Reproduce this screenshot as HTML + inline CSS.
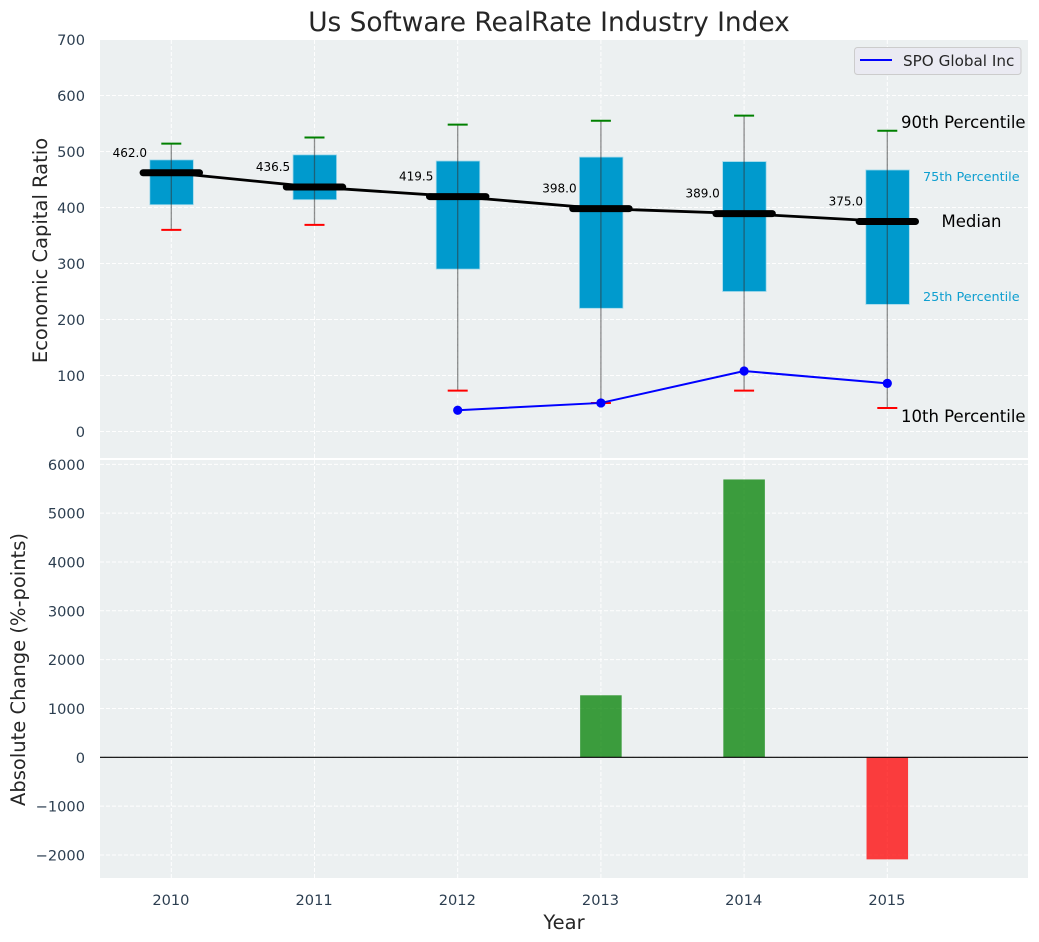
<!DOCTYPE html>
<html>
<head>
<meta charset="utf-8">
<title>Us Software RealRate Industry Index</title>
<style>
html,body{margin:0;padding:0;background:#fff;}
svg{display:block;font-family:"DejaVu Sans","Liberation Sans",sans-serif;}
</style>
</head>
<body>
<svg id="chart" width="1039" height="942" viewBox="0 0 1039 942" xmlns="http://www.w3.org/2000/svg"></svg>
<script>
const years = [2010, 2011, 2012, 2013, 2014, 2015];
const p90 = [514, 525, 548, 555, 564, 537];
const p75 = [485, 494, 483, 490, 482, 467];
const medians = [462.0, 436.5, 419.5, 398.0, 389.0, 375.0];
const p25 = [405, 414, 290, 220, 250, 227];
const p10 = [360, 369, 73, 51, 73, 42];
const spoYears = [2012, 2013, 2014, 2015];
const spoValues = [38, 51, 108, 86];
const changeYears = [2013, 2014, 2015];
const changeValues = [1270, 5690, -2090];
const topTicks = [0, 100, 200, 300, 400, 500, 600, 700];
const bottomTicks = [-2000, -1000, 0, 1000, 2000, 3000, 4000, 5000, 6000];

const svg = document.getElementById('chart');
const NS = 'http://www.w3.org/2000/svg';
const L = 100, R = 1028, T1 = 40, B1 = 458, T2 = 460, B2 = 878;
const x = v => 171.3 + (v - 2010) * 143.2;
const xd = d => d * 143.2;
const y1 = v => 431.5 - v * 0.56;
const y2 = v => 757.3 - v * 0.04883;

function mk(tag, props, text) {
  const e = document.createElementNS(NS, tag);
  for (const k in props) e.setAttribute(k, props[k]);
  if (text !== undefined) e.textContent = text;
  svg.appendChild(e);
  return e;
}
const tickColor = '#2c3e50', labelColor = '#262626';
const tickSize = 14.6, axisSize = 19.5, annSize = 16.5, smallAnnSize = 12.8, valueSize = 12;

let el = mk('rect', {x: L, y: T1, width: R - L, height: B1 - T1, fill: '#ecf0f1'});


el = mk('rect', {x: L, y: T2, width: R - L, height: B2 - T2, fill: '#ecf0f1'});



const gridStyle = {stroke: '#fff', 'stroke-width': 1, 'stroke-dasharray': '4 2', opacity: 0.95};

topTicks.forEach(t => {
  const g = mk('line', {x1: L, x2: R, y1: y1(t), y2: y1(t), ...gridStyle});
  
  
  const l = mk('text', {x: 85, y: y1(t) + 5.5, 'text-anchor': 'end', 'font-size': tickSize, fill: tickColor}, String(t));
  
  
});
bottomTicks.forEach(t => {
  const g = mk('line', {x1: L, x2: R, y1: y2(t), y2: y2(t), ...gridStyle});
  
  
  const l = mk('text', {x: 85, y: y2(t) + 5.5, 'text-anchor': 'end', 'font-size': tickSize, fill: tickColor}, String(t).replace('-', '\u2212'));
  
  
});
years.forEach(yr => {
  const a = mk('line', {x1: x(yr), x2: x(yr), y1: T1, y2: B1, ...gridStyle});
  
  
  const b = mk('line', {x1: x(yr), x2: x(yr), y1: T2, y2: B2, ...gridStyle});
  
  
  const l = mk('text', {x: x(yr) - 0.4, y: 905, 'text-anchor': 'middle', 'font-size': tickSize, fill: tickColor}, String(yr));
  
  
});

/* interquartile boxes */
years.forEach((yr, i) => {
  const b = mk('rect', {x: x(yr) + xd(-0.15), y: y1(p75[i]), width: xd(0.304), height: y1(p25[i]) - y1(p75[i]), fill: '#009acd', stroke: '#9fd8ea', 'stroke-width': 0.8});
  
  
});
/* whiskers */
years.forEach((yr, i) => {
  const w = mk('line', {x1: x(yr), x2: x(yr), y1: y1(p90[i]), y2: y1(p10[i]), stroke: '#333', 'stroke-opacity': 0.55, 'stroke-width': 1.3});
  
  
  const hi = mk('line', {x1: x(yr) - 10, x2: x(yr) + 10, y1: y1(p90[i]), y2: y1(p90[i]), stroke: '#008000', 'stroke-width': 2});
  
  
  const lo = mk('line', {x1: x(yr) - 10, x2: x(yr) + 10, y1: y1(p10[i]), y2: y1(p10[i]), stroke: '#ff0000', 'stroke-width': 2});
  
  
});
/* median trend */
const medianLine = mk('polyline', {points: years.map((yr, i) => x(yr) + ',' + y1(medians[i])).join(' '), fill: 'none', stroke: '#000', 'stroke-width': 2.8});


years.forEach((yr, i) => {
  const m = mk('line', {x1: x(yr) - 28.2, x2: x(yr) + 28.2, y1: y1(medians[i]), y2: y1(medians[i]), stroke: '#000', 'stroke-width': 7, 'stroke-linecap': 'round'});
  
  
  const t = mk('text', {x: x(yr) - 24.3, y: y1(medians[i]) - 16, 'text-anchor': 'end', 'font-size': valueSize, fill: '#000'}, medians[i].toFixed(1));
  
  
});
/* SPO series */
const spoLine = mk('polyline', {points: spoYears.map((yr, i) => x(yr) + ',' + y1(spoValues[i])).join(' '), fill: 'none', stroke: '#0000ff', 'stroke-width': 2});


spoYears.forEach((yr, i) => {
  const c = mk('circle', {cx: x(yr), cy: y1(spoValues[i]), r: 4.6, fill: '#0000ff'});
  
  
});
/* percentile annotations, anchored on the last year */
const lastIdx = years.length - 1, lastX = x(years[lastIdx]);
const ann1 = mk('text', {x: lastX + 13.7, y: y1(p90[lastIdx]) - 3, 'font-size': annSize, fill: '#000'}, '90th Percentile');


const ann2 = mk('text', {x: lastX + 35.7, y: y1(p75[lastIdx]) + 11, 'font-size': smallAnnSize, fill: '#0f9fd0'}, '75th Percentile');


const ann3 = mk('text', {x: lastX + 54.2, y: y1(medians[lastIdx]) + 5.5, 'font-size': annSize, fill: '#000'}, 'Median');


const ann4 = mk('text', {x: lastX + 35.7, y: y1(p25[lastIdx]) - 3.5, 'font-size': smallAnnSize, fill: '#0f9fd0'}, '25th Percentile');


const ann5 = mk('text', {x: lastX + 13.7, y: y1(p10[lastIdx]) + 14, 'font-size': annSize, fill: '#000'}, '10th Percentile');



/* bottom bars */
changeYears.forEach((yr, i) => {
  const v = changeValues[i];
  const b = mk('rect', {x: x(yr) + xd(-0.145), y: Math.min(y2(v), y2(0)), width: xd(0.29), height: Math.abs(y2(v) - y2(0)), fill: v >= 0 ? '#008000' : '#ff0000', 'fill-opacity': 0.75});
  
  
});
const zero = mk('line', {x1: L, x2: R, y1: y2(0), y2: y2(0), stroke: '#000', 'stroke-width': 1.1});



/* legend */
const lg = mk('rect', {x: 854.5, y: 47.5, width: 166.5, height: 27, rx: 3, fill: '#eaeaf2', stroke: '#ccc', 'stroke-width': 1});


const ls = mk('line', {x1: 860, x2: 892, y1: 60, y2: 60, stroke: '#0000ff', 'stroke-width': 2});


const lt = mk('text', {x: 903, y: 66, 'font-size': 15.2, fill: labelColor}, 'SPO Global Inc');



/* titles */
const title = mk('text', {x: 549, y: 31, 'text-anchor': 'middle', 'font-size': 26.4, fill: labelColor}, 'Us Software RealRate Industry Index');


const xt = mk('text', {x: 564, y: 929, 'text-anchor': 'middle', 'font-size': axisSize, fill: labelColor}, 'Year');


const yt1 = mk('text', {transform: 'translate(47,250.5) rotate(-90)', 'text-anchor': 'middle', 'font-size': axisSize, fill: labelColor}, 'Economic Capital Ratio');


const yt2 = mk('text', {transform: 'translate(25,669.5) rotate(-90)', 'text-anchor': 'middle', 'font-size': axisSize, fill: labelColor}, 'Absolute Change (%-points)');


</script>
</body>
</html>
